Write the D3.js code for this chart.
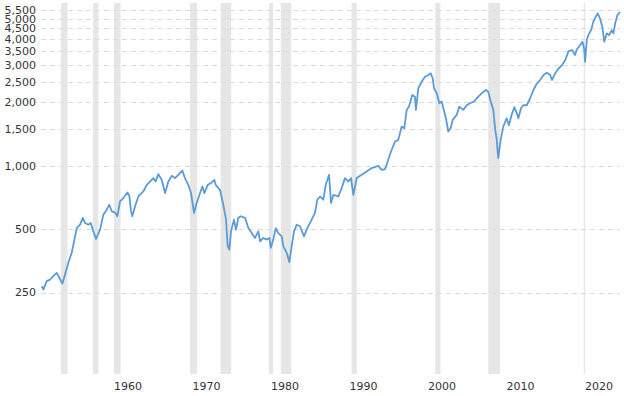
<!DOCTYPE html>
<html>
<head>
<meta charset="utf-8">
<script src="https://cdn.jsdelivr.net/npm/d3@7"></script>
<style>
  body { margin: 0; background: #fff; }
  .line { fill: none; stroke: #5b9bd8; stroke-width: 1.8px; stroke-linejoin: round; }
  .grid line { stroke: #dcdcdc; stroke-dasharray: 5,4; }
  .axis text { font-family: "DejaVu Sans", Verdana, sans-serif; font-size: 11px; fill: #333; }
</style>
</head>
<body>
<script>
// S&P 500, inflation adjusted (decimal year / index value)
let years = [
  1951.04, 1951.25, 1951.68, 1952.10, 1952.52, 1952.95, 1953.29, 1953.67, 1954.01, 1954.43,
  1954.86, 1955.16, 1955.50, 1955.92, 1956.27, 1956.56, 1956.98, 1957.28, 1957.62, 1957.96,
  1958.47, 1958.89, 1959.32, 1959.65, 1959.96, 1960.38, 1960.67, 1961.02, 1961.44, 1961.95,
  1962.20, 1962.42, 1962.58, 1962.93, 1963.35, 1963.98, 1964.42, 1964.84, 1965.26, 1965.56,
  1965.89, 1966.32, 1966.75, 1967.17, 1967.60, 1968.02, 1968.44, 1968.95, 1969.29, 1969.71,
  1970.06, 1970.44, 1970.78, 1971.21, 1971.50, 1971.75, 1972.19, 1972.61, 1973.03, 1973.20,
  1973.75, 1974.17, 1974.52, 1974.73, 1974.94, 1975.15, 1975.53, 1975.79, 1976.08, 1976.39,
  1976.94, 1977.36, 1977.79, 1978.21, 1978.63, 1978.85, 1979.27, 1979.70, 1980.03, 1980.21,
  1980.54, 1980.85, 1981.18, 1981.61, 1981.81, 1982.25, 1982.58, 1982.88, 1983.18, 1983.52,
  1983.94, 1984.45, 1984.87, 1985.43, 1985.85, 1986.14, 1986.49, 1986.91, 1987.22, 1987.64,
  1987.89, 1988.18, 1988.82, 1989.25, 1989.67, 1990.09, 1990.44, 1990.73, 1991.16, 1991.80,
  1992.43, 1993.07, 1993.91, 1994.35, 1994.77, 1995.11, 1995.53, 1996.04, 1996.46, 1996.89,
  1997.22, 1997.53, 1997.82, 1998.24, 1998.58, 1998.71, 1999.01, 1999.44, 1999.86, 2000.28,
  2000.59, 2000.85, 2001.01, 2001.36, 2001.69, 2001.99, 2002.20, 2002.53, 2002.83, 2003.13,
  2003.39, 2003.90, 2004.23, 2004.74, 2005.17, 2005.59, 2006.10, 2006.65, 2007.08, 2007.63,
  2007.92, 2008.23, 2008.56, 2008.81, 2008.99, 2009.19, 2009.50, 2009.83, 2010.26, 2010.55,
  2010.90, 2011.24, 2011.55, 2011.75, 2012.09, 2012.38, 2012.82, 2013.25, 2013.67, 2014.11,
  2014.53, 2014.95, 2015.38, 2015.81, 2016.03, 2016.45, 2016.87, 2017.30, 2017.72, 2018.14,
  2018.58, 2018.97, 2019.21, 2019.50, 2019.92, 2020.13, 2020.25, 2020.47, 2020.67, 2021.01,
  2021.30, 2021.61, 2021.86, 2022.15, 2022.44, 2022.70, 2023.02, 2023.31, 2023.65, 2023.86,
  2024.08, 2024.37, 2024.71
];
let prices = [
  268, 258, 283, 288, 299, 310, 293, 276, 304, 346,
  386, 438, 506, 525, 566, 535, 525, 535, 488, 449,
  497, 586, 619, 653, 608, 601, 576, 677, 703, 747,
  720, 608, 576, 642, 715, 755, 812, 842, 874, 842,
  913, 858, 742, 842, 896, 874, 906, 950, 874, 812,
  742, 597, 666, 742, 797, 742, 812, 828, 858, 812,
  769, 653, 555, 415, 400, 488, 555, 497, 566, 576,
  566, 506, 479, 454, 488, 438, 454, 446, 454, 408,
  446, 506, 479, 462, 415, 386, 349, 415, 488, 525,
  516, 462, 506, 555, 597, 690, 715, 690, 812, 906,
  666, 727, 715, 784, 874, 842, 874, 727, 874, 906,
  940, 975, 1000, 957, 964, 1048, 1169, 1304, 1328, 1536,
  1508, 1843, 1911, 2170, 2130, 1843, 2336, 2510, 2650, 2700,
  2750, 2600, 2336, 2210, 1982, 2020, 1878, 1682, 1454, 1508,
  1652, 1745, 1911, 1843, 1940, 1982, 2020, 2130, 2210, 2293,
  2250, 2020, 1843, 1481, 1340, 1088, 1328, 1536, 1682, 1560,
  1750, 1899, 1778, 1682, 1878, 1940, 1940, 2094, 2293, 2460,
  2557, 2700, 2770, 2700, 2557, 2750, 2900, 3000, 3180, 3500,
  3550, 3360, 3580, 3690, 3890, 3600, 3120, 3960, 4180, 4410,
  4830, 5110, 5300, 5020, 4580, 3890, 4260, 4180, 4410, 4260,
  4740, 5200, 5380
];

// NBER recessions
let recStart = [1953.50, 1957.58, 1960.25, 1969.92, 1973.83, 1980.00, 1981.50, 1990.50, 2001.17, 2007.92, 2020.08];
let recEnd   = [1954.33, 1958.25, 1961.08, 1970.83, 1975.17, 1980.50, 1982.83, 1991.17, 2001.83, 2009.42, 2020.25];

let yTicks = [250, 500, 1000, 1500, 2000, 2500, 3000, 3500, 4000, 4500, 5000, 5500];
let xTicks = [1960, 1970, 1980, 1990, 2000, 2010, 2020];

// set the dimensions
let width = 624, height = 396;
let plot = {left: 41, right: 620, top: 3, bottom: 374};

// set the ranges
let x = d3.scaleLinear().domain([1951.0, 2024.7]).range([plot.left + 0.4, plot.right]);
let y = d3.scaleLog().domain([250, 5500]).range([292.5, 10]);

let data = years.map(function(d, i) { return {date: d, value: prices[i]}; });

let valueline = d3.line()
    .x(function(d) { return x(d.date); })
    .y(function(d) { return y(d.value); });

let svg = d3.select("body").append("svg")
    .attr("width", width)
    .attr("height", height);

// recession bars
svg.append("g").selectAll("rect")
    .data(recStart)
    .enter().append("rect")
    .attr("x", function(d) { return x(d); })
    .attr("y", plot.top)
    .attr("width", function(d, i) { return Math.max(1.2, x(recEnd[i]) - x(d)); })
    .attr("height", plot.bottom - plot.top)
    .attr("fill", "#e6e6e6");

// horizontal dashed grid
svg.append("g")
    .attr("class", "grid")
    .selectAll("line")
    .data(yTicks)
    .enter().append("line")
    .attr("x1", plot.left)
    .attr("x2", plot.right)
    .attr("y1", function(d) { return Math.round(y(d)) + 0.5; })
    .attr("y2", function(d) { return Math.round(y(d)) + 0.5; });

// y labels
svg.append("g")
    .attr("class", "axis")
    .selectAll("text")
    .data(yTicks)
    .enter().append("text")
    .attr("x", 36)
    .attr("y", function(d) { return y(d); })
    .attr("dy", "0.36em")
    .attr("text-anchor", "end")
    .text(function(d) { return d3.format(",")(d); });

// x labels, left aligned at the tick
svg.append("g")
    .attr("class", "axis")
    .selectAll("text")
    .data(xTicks)
    .enter().append("text")
    .attr("x", function(d) { return x(d) + 2; })
    .attr("y", 390)
    .text(function(d) { return d; });

// price line
svg.append("path")
    .datum(data)
    .attr("class", "line")
    .attr("d", valueline);
</script>
</body>
</html>
